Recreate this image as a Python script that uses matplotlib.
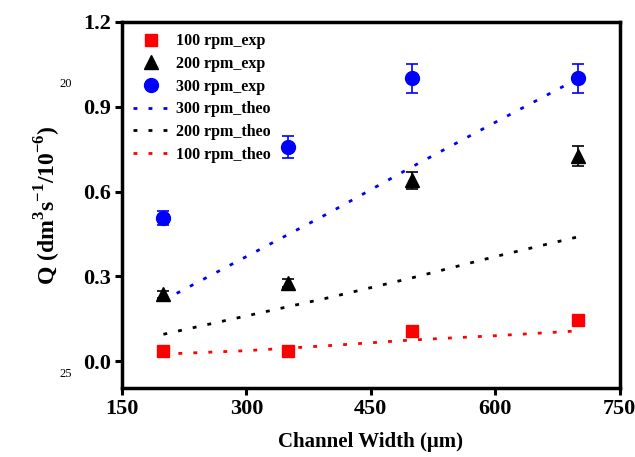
import numpy as np
import matplotlib
matplotlib.use('Agg')
import matplotlib.pyplot as plt
from matplotlib.lines import Line2D

plt.rcParams['font.family'] = 'Liberation Serif'
plt.rcParams['font.weight'] = 'bold'
plt.rcParams['mathtext.fontset'] = 'custom'
plt.rcParams['mathtext.rm'] = 'Liberation Serif:bold'
plt.rcParams['mathtext.bf'] = 'Liberation Serif:bold'

# experimental data
width_exp = [200, 350, 500, 700]
q100_exp = [0.035, 0.035, 0.105, 0.145]
q200_exp = [0.237, 0.276, 0.64, 0.726]
q300_exp = [0.506, 0.757, 1.0, 1.0]
err200 = [0.012, 0.015, 0.03, 0.035]
err300 = [0.025, 0.04, 0.05, 0.05]

# theoretical curves
width_theo = [200, 300, 400, 500, 600, 700]
q100_theo = [0.025, 0.037, 0.055, 0.075, 0.09, 0.107]
q200_theo = [0.095, 0.16, 0.225, 0.295, 0.37, 0.44]
q300_theo = [0.215, 0.37, 0.525, 0.688, 0.845, 1.0]

fig = plt.figure(figsize=(6.35, 4.57), dpi=100)
ax = fig.add_axes([0.192, 0.151, 0.784, 0.801])

dots = (0, (1.4, 4))
ax.plot(width_exp, q100_exp, 's', color='#ff0000', ms=9)
ax.errorbar(width_exp, q200_exp, yerr=err200, fmt='^', color='black', ms=10,
            capsize=4, elinewidth=1.2, capthick=1.2)
ax.errorbar(width_exp, q300_exp, yerr=err300, fmt='o', color='#0000ff', ms=10,
            capsize=4, elinewidth=1.2, capthick=1.2)
ax.plot(width_theo, q300_theo, color='#0000ff', lw=2, ls=dots)
ax.plot(width_theo, q200_theo, color='black', lw=2, ls=dots)
ax.plot(width_theo, q100_theo, color='#ff0000', lw=2, ls=dots)

ax.set_xlim(150, 750)
ax.set_ylim(-0.095, 1.2)
ax.set_xticks([150, 300, 450, 600, 750])
ax.set_yticks([0.0, 0.3, 0.6, 0.9, 1.2])
ax.set_yticklabels(['0.0', '0.3', '0.6', '0.9', '1.2'])
for s in ax.spines.values():
    s.set_linewidth(2.5)
ax.tick_params(direction='out', length=5, width=2.2, labelsize=16, pad=3)

ax.set_xlabel('Channel Width (\u03bcm)', fontsize=15, fontweight='bold', labelpad=9)
ax.set_ylabel(r'Q (dm$^{3}$s$^{-1}$/10$^{-6}$)', fontsize=17, fontweight='bold', labelpad=14)

handles = [
    Line2D([], [], ls='none', marker='s', color='#ff0000', ms=9),
    Line2D([], [], ls='none', marker='^', color='black', ms=10),
    Line2D([], [], ls='none', marker='o', color='#0000ff', ms=10),
    Line2D([], [], color='#0000ff', lw=2, ls=dots),
    Line2D([], [], color='black', lw=2, ls=dots),
    Line2D([], [], color='#ff0000', lw=2, ls=dots),
]
labels = ['100 rpm_exp', '200 rpm_exp', '300 rpm_exp',
          '300 rpm_theo', '200 rpm_theo', '100 rpm_theo']
ax.legend(handles, labels, loc='upper left', frameon=False, handlelength=2.2,
          handletextpad=0.5, labelspacing=0.42, borderaxespad=0.3,
          prop={'weight': 'bold', 'size': 11.5})

# manuscript line numbers
fig.text(0.094, 0.81, '20', fontsize=9, fontweight='normal')
fig.text(0.094, 0.175, '25', fontsize=9, fontweight='normal')

fig.savefig('out.png', dpi=100)
